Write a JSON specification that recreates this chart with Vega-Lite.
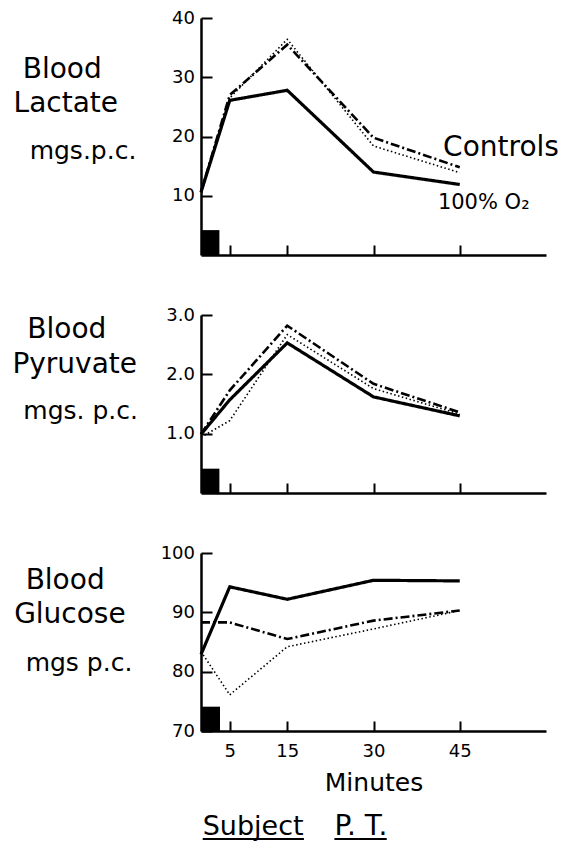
{
  "$schema": "https://vega.github.io/schema/vega-lite/v6.json",
  "background": "white",
  "padding": {"left": 12, "top": 9, "right": 2, "bottom": 2},
  "spacing": 60,
  "bounds": "flush",
  "config": {
    "view": {"stroke": null},
    "axis": {
      "domainColor": "black", "domainWidth": 2.5, "tickColor": "black", "tickWidth": 2,
      "labelColor": "black", "labelFont": "DejaVu Sans", "labelFontSize": 18,
      "grid": false, "labelFlush": false, "labelOverlap": false,
      "titleFont": "DejaVu Sans", "titleColor": "black", "titleFontWeight": "normal"
    }
  },
  "datasets": {
    "series": [
      {"panel": "lactate", "series": "100% O2", "minute": 0, "value": 10.6},
      {"panel": "lactate", "series": "100% O2", "minute": 5, "value": 26.1},
      {"panel": "lactate", "series": "100% O2", "minute": 15, "value": 27.8},
      {"panel": "lactate", "series": "100% O2", "minute": 30, "value": 14.0},
      {"panel": "lactate", "series": "100% O2", "minute": 45, "value": 11.9},
      {"panel": "lactate", "series": "Control 1", "minute": 0, "value": 10.6},
      {"panel": "lactate", "series": "Control 1", "minute": 5, "value": 27.0},
      {"panel": "lactate", "series": "Control 1", "minute": 15, "value": 35.5},
      {"panel": "lactate", "series": "Control 1", "minute": 30, "value": 19.8},
      {"panel": "lactate", "series": "Control 1", "minute": 45, "value": 14.8},
      {"panel": "lactate", "series": "Control 2", "minute": 0, "value": 10.6},
      {"panel": "lactate", "series": "Control 2", "minute": 5, "value": 26.5},
      {"panel": "lactate", "series": "Control 2", "minute": 15, "value": 36.4},
      {"panel": "lactate", "series": "Control 2", "minute": 30, "value": 18.4},
      {"panel": "lactate", "series": "Control 2", "minute": 45, "value": 13.9},
      {"panel": "pyruvate", "series": "100% O2", "minute": 0, "value": 0.99},
      {"panel": "pyruvate", "series": "100% O2", "minute": 5, "value": 1.57},
      {"panel": "pyruvate", "series": "100% O2", "minute": 15, "value": 2.53},
      {"panel": "pyruvate", "series": "100% O2", "minute": 30, "value": 1.62},
      {"panel": "pyruvate", "series": "100% O2", "minute": 45, "value": 1.30},
      {"panel": "pyruvate", "series": "Control 1", "minute": 0, "value": 0.99},
      {"panel": "pyruvate", "series": "Control 1", "minute": 5, "value": 1.73},
      {"panel": "pyruvate", "series": "Control 1", "minute": 15, "value": 2.82},
      {"panel": "pyruvate", "series": "Control 1", "minute": 30, "value": 1.84},
      {"panel": "pyruvate", "series": "Control 1", "minute": 45, "value": 1.36},
      {"panel": "pyruvate", "series": "Control 2", "minute": 0, "value": 0.94},
      {"panel": "pyruvate", "series": "Control 2", "minute": 5, "value": 1.22},
      {"panel": "pyruvate", "series": "Control 2", "minute": 15, "value": 2.67},
      {"panel": "pyruvate", "series": "Control 2", "minute": 30, "value": 1.76},
      {"panel": "pyruvate", "series": "Control 2", "minute": 45, "value": 1.33},
      {"panel": "glucose", "series": "100% O2", "minute": 0, "value": 82.9},
      {"panel": "glucose", "series": "100% O2", "minute": 5, "value": 94.3},
      {"panel": "glucose", "series": "100% O2", "minute": 15, "value": 92.2},
      {"panel": "glucose", "series": "100% O2", "minute": 30, "value": 95.4},
      {"panel": "glucose", "series": "100% O2", "minute": 45, "value": 95.3},
      {"panel": "glucose", "series": "Control 1", "minute": 0, "value": 88.3},
      {"panel": "glucose", "series": "Control 1", "minute": 5, "value": 88.3},
      {"panel": "glucose", "series": "Control 1", "minute": 15, "value": 85.5},
      {"panel": "glucose", "series": "Control 1", "minute": 30, "value": 88.6},
      {"panel": "glucose", "series": "Control 1", "minute": 45, "value": 90.3},
      {"panel": "glucose", "series": "Control 2", "minute": 0, "value": 83.4},
      {"panel": "glucose", "series": "Control 2", "minute": 5, "value": 76.1},
      {"panel": "glucose", "series": "Control 2", "minute": 15, "value": 84.2},
      {"panel": "glucose", "series": "Control 2", "minute": 30, "value": 87.2},
      {"panel": "glucose", "series": "Control 2", "minute": 45, "value": 90.3}
    ]
  },
  "vconcat": [
    {
      "width": 345, "height": 237,
      "layer": [
        {
          "data": {"values": [{"event": "exercise"}]},
          "mark": {"type": "rect", "color": "black"},
          "encoding": {"x": {"datum": 0}, "x2": {"datum": 3.2}, "y": {"datum": 0}, "y2": {"datum": 4.2}}
        },
        {
          "data": {"name": "series"},
          "transform": [{"filter": "datum.panel === 'lactate'"}],
          "mark": {"type": "line", "color": "black"},
          "encoding": {
            "x": {"field": "minute", "type": "quantitative", "scale": {"domain": [0, 60], "nice": false, "zero": false},
                  "axis": {"values": [5, 15, 30, 45], "tickSize": -10, "labels": false, "title": null}},
            "y": {"field": "value", "type": "quantitative", "scale": {"domain": [0, 40], "nice": false, "zero": false},
                  "axis": {"values": [10, 20, 30, 40], "tickSize": -11, "labelPadding": 17.5, "labelFontSize": 18, "title": null}},
            "strokeDash": {"field": "series", "type": "nominal", "legend": null,
                           "scale": {"domain": ["100% O2", "Control 1", "Control 2"], "range": [[1, 0], [9, 3, 2, 3], [1.5, 2.5]]}},
            "strokeWidth": {"condition": [{"test": "datum.series === '100% O2'", "value": 3.2}, {"test": "datum.series === 'Control 1'", "value": 2.6}], "value": 1.6}
          }
        },
        {
          "data": {"values": [{"label": "Blood"}]},
          "mark": {"type": "text", "align": "left", "baseline": "alphabetic", "fontSize": 28, "font": "DejaVu Sans", "color": "black"},
          "encoding": {"x": {"datum": -31.0}, "y": {"datum": 29.95}, "text": {"field": "label"}}
        },
        {
          "data": {"values": [{"label": "Lactate"}]},
          "mark": {"type": "text", "align": "left", "baseline": "alphabetic", "fontSize": 28, "font": "DejaVu Sans", "color": "black"},
          "encoding": {"x": {"datum": -32.6}, "y": {"datum": 24.2}, "text": {"field": "label"}}
        },
        {
          "data": {"values": [{"label": "mgs.p.c."}]},
          "mark": {"type": "text", "align": "left", "baseline": "alphabetic", "fontSize": 25, "font": "DejaVu Sans", "color": "black"},
          "encoding": {"x": {"datum": -29.8}, "y": {"datum": 16.2}, "text": {"field": "label"}}
        },
        {
          "data": {"values": [{"label": "Controls"}]},
          "mark": {"type": "text", "align": "left", "baseline": "alphabetic", "fontSize": 28, "font": "DejaVu Sans", "color": "black"},
          "encoding": {"x": {"datum": 42.1}, "y": {"datum": 16.7}, "text": {"field": "label"}}
        },
        {
          "data": {"values": [{"label": "100% O₂"}]},
          "mark": {"type": "text", "align": "left", "baseline": "alphabetic", "fontSize": 21, "font": "DejaVu Sans", "color": "black"},
          "encoding": {"x": {"datum": 41.2}, "y": {"datum": 7.76}, "text": {"field": "label"}}
        }
      ]
    },
    {
      "width": 345, "height": 178,
      "layer": [
        {
          "data": {"values": [{"event": "exercise"}]},
          "mark": {"type": "rect", "color": "black"},
          "encoding": {"x": {"datum": 0}, "x2": {"datum": 3.2}, "y": {"datum": 0}, "y2": {"datum": 0.41}}
        },
        {
          "data": {"name": "series"},
          "transform": [{"filter": "datum.panel === 'pyruvate'"}],
          "mark": {"type": "line", "color": "black"},
          "encoding": {
            "x": {"field": "minute", "type": "quantitative", "scale": {"domain": [0, 60], "nice": false, "zero": false},
                  "axis": {"values": [5, 15, 30, 45], "tickSize": -10, "labels": false, "title": null}},
            "y": {"field": "value", "type": "quantitative", "scale": {"domain": [0, 3], "nice": false, "zero": false},
                  "axis": {"values": [1, 2, 3], "format": ".1f", "tickSize": -11, "labelPadding": 17.5, "labelFontSize": 18, "title": null}},
            "strokeDash": {"field": "series", "type": "nominal", "legend": null,
                           "scale": {"domain": ["100% O2", "Control 1", "Control 2"], "range": [[1, 0], [9, 3, 2, 3], [1.5, 2.5]]}},
            "strokeWidth": {"condition": [{"test": "datum.series === '100% O2'", "value": 3.2}, {"test": "datum.series === 'Control 1'", "value": 2.6}], "value": 1.6}
          }
        },
        {
          "data": {"values": [{"label": "Blood"}]},
          "mark": {"type": "text", "align": "left", "baseline": "alphabetic", "fontSize": 28, "font": "DejaVu Sans", "color": "black"},
          "encoding": {"x": {"datum": -30.2}, "y": {"datum": 2.62}, "text": {"field": "label"}}
        },
        {
          "data": {"values": [{"label": "Pyruvate"}]},
          "mark": {"type": "text", "align": "left", "baseline": "alphabetic", "fontSize": 28, "font": "DejaVu Sans", "color": "black"},
          "encoding": {"x": {"datum": -32.8}, "y": {"datum": 2.03}, "text": {"field": "label"}}
        },
        {
          "data": {"values": [{"label": "mgs.  p.c."}]},
          "mark": {"type": "text", "align": "left", "baseline": "alphabetic", "fontSize": 25, "font": "DejaVu Sans", "color": "black"},
          "encoding": {"x": {"datum": -30.9}, "y": {"datum": 1.24}, "text": {"field": "label"}}
        }
      ]
    },
    {
      "width": 345, "height": 178,
      "layer": [
        {
          "data": {"values": [{"event": "exercise"}]},
          "mark": {"type": "rect", "color": "black"},
          "encoding": {"x": {"datum": 0}, "x2": {"datum": 3.3}, "y": {"datum": 70}, "y2": {"datum": 74.1}}
        },
        {
          "data": {"name": "series"},
          "transform": [{"filter": "datum.panel === 'glucose'"}],
          "mark": {"type": "line", "color": "black"},
          "encoding": {
            "x": {"field": "minute", "type": "quantitative", "scale": {"domain": [0, 60], "nice": false, "zero": false},
                  "axis": {"values": [5, 15, 30, 45], "tickSize": -10, "labelPadding": 21, "labelFontSize": 18, "title": "Minutes", "titleFontSize": 25, "titlePadding": 10}},
            "y": {"field": "value", "type": "quantitative", "scale": {"domain": [70, 100], "nice": false, "zero": false},
                  "axis": {"values": [70, 80, 90, 100], "tickSize": -11, "labelPadding": 17.5, "labelFontSize": 18, "title": null}},
            "strokeDash": {"field": "series", "type": "nominal", "legend": null,
                           "scale": {"domain": ["100% O2", "Control 1", "Control 2"], "range": [[1, 0], [9, 3, 2, 3], [1.5, 2.5]]}},
            "strokeWidth": {"condition": [{"test": "datum.series === '100% O2'", "value": 3.2}, {"test": "datum.series === 'Control 1'", "value": 2.6}], "value": 1.6}
          }
        },
        {
          "data": {"values": [{"label": "Blood"}]},
          "mark": {"type": "text", "align": "left", "baseline": "alphabetic", "fontSize": 28, "font": "DejaVu Sans", "color": "black"},
          "encoding": {"x": {"datum": -30.5}, "y": {"datum": 93.9}, "text": {"field": "label"}}
        },
        {
          "data": {"values": [{"label": "Glucose"}]},
          "mark": {"type": "text", "align": "left", "baseline": "alphabetic", "fontSize": 28, "font": "DejaVu Sans", "color": "black"},
          "encoding": {"x": {"datum": -32.5}, "y": {"datum": 88.25}, "text": {"field": "label"}}
        },
        {
          "data": {"values": [{"label": "mgs p.c."}]},
          "mark": {"type": "text", "align": "left", "baseline": "alphabetic", "fontSize": 25, "font": "DejaVu Sans", "color": "black"},
          "encoding": {"x": {"datum": -30.5}, "y": {"datum": 80.05}, "text": {"field": "label"}}
        },
        {
          "data": {"values": [{"label": "Subject"}]},
          "mark": {"type": "text", "align": "left", "baseline": "alphabetic", "fontSize": 27, "font": "DejaVu Sans", "color": "black"},
          "encoding": {"x": {"datum": 0.3}, "y": {"datum": 52.4}, "text": {"field": "label"}}
        },
        {
          "data": {"values": [{"label": "P. T."}]},
          "mark": {"type": "text", "align": "left", "baseline": "alphabetic", "fontSize": 28, "font": "DejaVu Sans", "color": "black"},
          "encoding": {"x": {"datum": 23.2}, "y": {"datum": 52.4}, "text": {"field": "label"}}
        },
        {
          "data": {"values": [{"word": "Subject"}]},
          "mark": {"type": "rule", "color": "black", "strokeWidth": 2},
          "encoding": {"x": {"datum": 0.3}, "x2": {"datum": 17.9}, "y": {"datum": 51.8}}
        },
        {
          "data": {"values": [{"word": "P. T."}]},
          "mark": {"type": "rule", "color": "black", "strokeWidth": 2},
          "encoding": {"x": {"datum": 23.2}, "x2": {"datum": 32.3}, "y": {"datum": 51.8}}
        }
      ]
    }
  ]
}
